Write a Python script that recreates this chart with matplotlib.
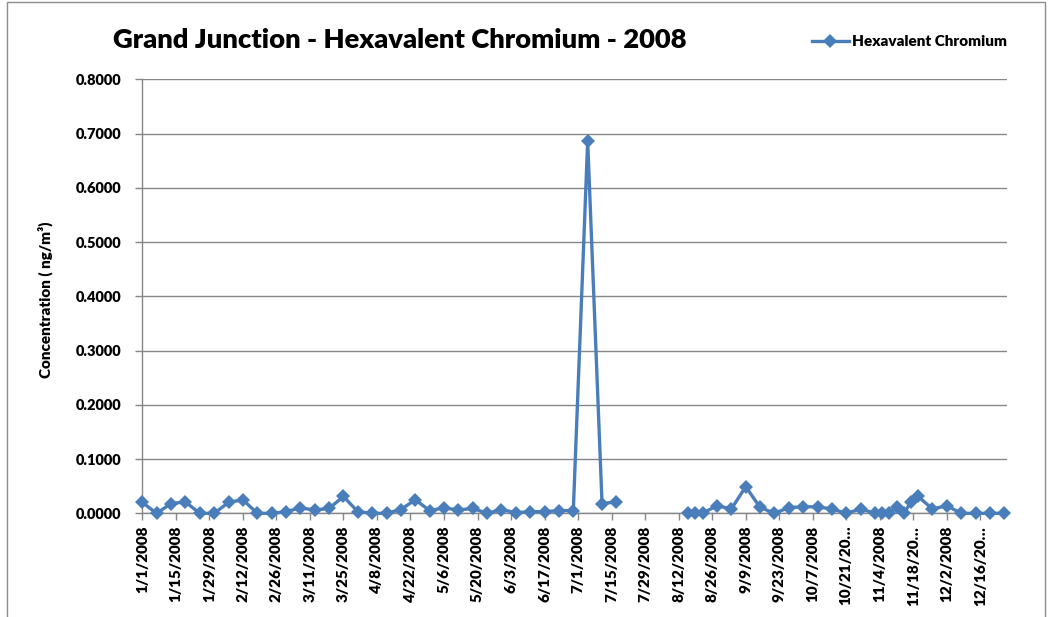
import matplotlib
matplotlib.use("Agg")
import matplotlib.pyplot as plt
from matplotlib.patches import Rectangle
import numpy as np
import pandas as pd

# ---- data ----
dates = ["2008-01-01", "2008-01-07", "2008-01-13", "2008-01-19", "2008-01-25", "2008-01-31",
         "2008-02-06", "2008-02-12", "2008-02-18", "2008-02-24", "2008-03-01", "2008-03-07",
         "2008-03-13", "2008-03-19", "2008-03-25", "2008-03-31", "2008-04-06", "2008-04-12",
         "2008-04-18", "2008-04-24", "2008-04-30", "2008-05-06", "2008-05-12", "2008-05-18",
         "2008-05-24", "2008-05-30", "2008-06-05", "2008-06-11", "2008-06-17", "2008-06-23",
         "2008-06-29", "2008-07-05", "2008-07-11", "2008-07-17", "2008-07-23", "2008-07-29",
         "2008-08-04", "2008-08-10", "2008-08-16", "2008-08-19", "2008-08-22", "2008-08-28",
         "2008-09-03", "2008-09-09", "2008-09-15", "2008-09-21", "2008-09-27", "2008-10-03",
         "2008-10-09", "2008-10-15", "2008-10-21", "2008-10-27", "2008-11-02", "2008-11-05",
         "2008-11-08", "2008-11-11", "2008-11-14", "2008-11-17", "2008-11-20", "2008-11-26",
         "2008-12-02", "2008-12-08", "2008-12-14", "2008-12-20", "2008-12-26"]
hex_chromium = [0.020, 0.000, 0.018, 0.021, 0.000, 0.000,
                0.020, 0.025, 0.000, 0.000, 0.003, 0.010,
                0.006, 0.009, 0.031, 0.003, 0.000, 0.000,
                0.007, 0.025, 0.005, 0.010, 0.006, 0.009,
                0.000, 0.007, 0.001, 0.003, 0.003, 0.005,
                0.005, 0.686, 0.018, 0.021, np.nan, np.nan,
                np.nan, np.nan, 0.000, 0.000, 0.000, 0.014,
                0.008, 0.049, 0.011, 0.000, 0.0105, 0.012,
                0.012, 0.008, 0.000, 0.008, 0.000, 0.000,
                0.001, 0.011, 0.000, 0.020, 0.031, 0.008,
                0.014, 0.000, 0.000, 0.000, 0.000]
tick_dates = ["2008-01-01", "2008-01-15", "2008-01-29", "2008-02-12", "2008-02-26", "2008-03-11",
              "2008-03-25", "2008-04-08", "2008-04-22", "2008-05-06", "2008-05-20", "2008-06-03",
              "2008-06-17", "2008-07-01", "2008-07-15", "2008-07-29", "2008-08-12", "2008-08-26",
              "2008-09-09", "2008-09-23", "2008-10-07", "2008-10-21", "2008-11-04", "2008-11-18",
              "2008-12-02", "2008-12-16"]
tick_labels = ["1/1/2008", "1/15/2008", "1/29/2008", "2/12/2008", "2/26/2008", "3/11/2008",
               "3/25/2008", "4/8/2008", "4/22/2008", "5/6/2008", "5/20/2008", "6/3/2008",
               "6/17/2008", "7/1/2008", "7/15/2008", "7/29/2008", "8/12/2008", "8/26/2008",
               "9/9/2008", "9/23/2008", "10/7/2008", "10/21/20\u2026", "11/4/2008", "11/18/20\u2026",
               "12/2/2008", "12/16/20\u2026"]
y_ticks = [0.0, 0.1, 0.2, 0.3, 0.4, 0.5, 0.6, 0.7, 0.8]
series_name = "Hexavalent Chromium"
title = "Grand Junction - Hexavalent Chromium - 2008"
ylabel = "Concentration ( ng/m\u00b3)"

plt.rcParams['font.family'] = ['Lato', 'DejaVu Sans']

W, H = 1053, 617
fig = plt.figure(figsize=(W / 100, H / 100), dpi=100)
ax = fig.add_axes([142.3 / W, 1 - 513.3 / H, (1006.7 - 142.3) / W, (513.3 - 79.3) / H])

color = "#4A7EBB"
x = pd.to_datetime(dates)
ax.plot(x, hex_chromium, color=color, lw=2.4, marker="D", markersize=7,
        markeredgewidth=0, label=series_name, zorder=3, clip_on=False)

ax.set_xlim(pd.Timestamp("2008-01-01"), pd.Timestamp("2008-12-27"))
ax.set_ylim(0, 0.8)
ax.set_yticks(y_ticks)
ax.set_yticklabels([f"{v:.4f}" for v in y_ticks], fontsize=10.5, fontweight="heavy")
ax.set_xticks(pd.to_datetime(tick_dates))
ax.set_xticklabels(tick_labels, rotation=90, fontsize=11, fontweight="heavy")
ax.grid(axis="y", color="#868686", lw=1)
ax.set_axisbelow(True)
for s in ["top", "right"]:
    ax.spines[s].set_visible(False)
for s in ["left", "bottom"]:
    ax.spines[s].set_color("#868686")
    ax.spines[s].set_linewidth(1)
ax.tick_params(axis="both", direction="out", length=5, color="#868686", width=1)
ax.tick_params(axis="y", pad=10)
ax.tick_params(axis="x", pad=4)

fig.text(45 / W, 1 - 300 / H, ylabel, rotation=90, ha="center", va="center",
         fontsize=11, fontweight="heavy")
fig.text(400 / W, 1 - 40 / H, title, ha="center", va="center", fontsize=19.7, fontweight="heavy")

fig.legend(loc="center left", bbox_to_anchor=(812 / W, 1 - 42 / H), frameon=False,
           prop={"weight": "heavy", "size": 11}, handlelength=2.4, handletextpad=0.2,
           borderpad=0, borderaxespad=0)

fig.patches.append(Rectangle((7 / W, -0.02), (1045 - 7) / W, 1.02 - 2 / H,
                             transform=fig.transFigure, fill=False, edgecolor="#8c8c8c",
                             lw=1, zorder=0))

fig.savefig("out.png", dpi=100)
